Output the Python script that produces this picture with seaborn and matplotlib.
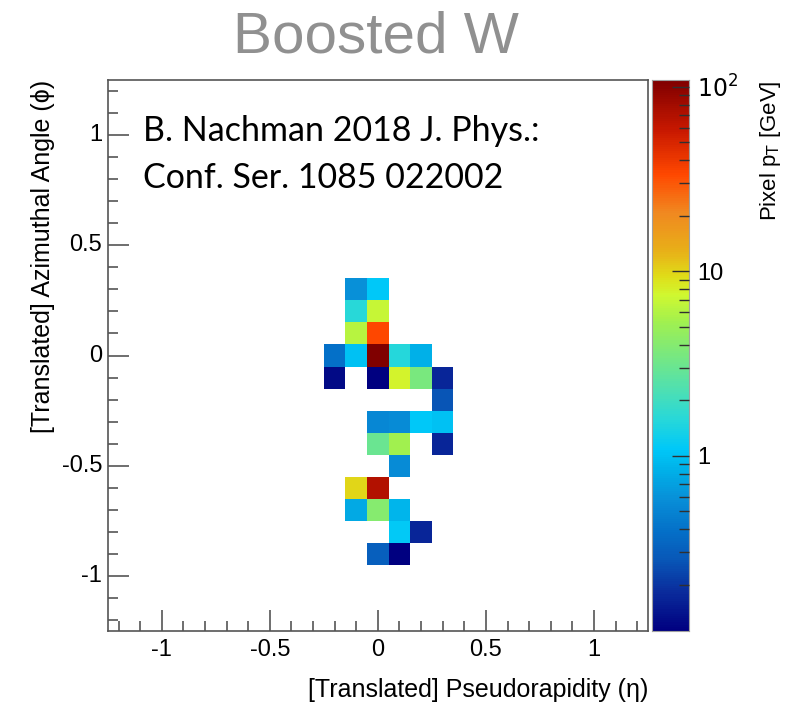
import numpy as np
import pandas as pd
import seaborn as sns
import matplotlib.pyplot as plt
from matplotlib.colors import LogNorm, LinearSegmentedColormap

# pixel grid: 25 x 25 cells of 0.1 from -1.25 to 1.25
bin_centers = np.round(np.arange(-1.2, 1.21, 0.1), 2)

# hit pixels: (eta, phi, pT in GeV)
hit_eta = [-0.1, 0.0,
           -0.1, 0.0,
           -0.1, 0.0,
           -0.2, -0.1, 0.0, 0.1, 0.2,
           -0.2, 0.0, 0.1, 0.2, 0.3,
           0.3,
           0.0, 0.1, 0.2, 0.3,
           0.0, 0.1, 0.3,
           0.1,
           -0.1, 0.0,
           -0.1, 0.0, 0.1,
           0.1, 0.2,
           0.0, 0.1]
hit_phi = [0.3, 0.3,
           0.2, 0.2,
           0.1, 0.1,
           0.0, 0.0, 0.0, 0.0, 0.0,
           -0.1, -0.1, -0.1, -0.1, -0.1,
           -0.2,
           -0.3, -0.3, -0.3, -0.3,
           -0.4, -0.4, -0.4,
           -0.5,
           -0.6, -0.6,
           -0.7, -0.7, -0.7,
           -0.8, -0.8,
           -0.9, -0.9]
hit_pt = [0.58, 1.08,
          1.58, 6.9,
          6.3, 34.0,
          0.39, 1.0, 109.0, 1.55, 0.82,
          0.125, 0.112, 7.7, 3.5, 0.17,
          0.27,
          0.52, 0.56, 1.1, 1.0,
          3.0, 5.3, 0.17,
          0.56,
          9.8, 70.0,
          0.77, 4.0, 0.88,
          1.12, 0.17,
          0.31, 0.113]

x_major = [-1, -0.5, 0, 0.5, 1]
y_major = [1, 0.5, 0, -0.5, -1]
x_labels = ["-1", "-0.5", "0", "0.5", "1"]
y_labels = ["1", "0.5", "0", "-0.5", "-1"]

# ROOT-like rainbow palette
pal_pos = [0.0, 0.07, 0.13, 0.18, 0.24, 0.29, 0.33, 0.385, 0.44, 0.50,
           0.56, 0.61, 0.645, 0.69, 0.76, 0.83, 0.91, 1.0]
pal_col = ["#000080", "#0a2c9c", "#0858b8", "#0470c8", "#0890d8", "#00b0e8",
           "#00c8f8", "#28d8d8", "#50e0b0", "#78e880", "#a0f050", "#d0f830",
           "#e0dc18", "#e8b018", "#f08820", "#ff4800", "#c81800", "#800000"]
cmap = LinearSegmentedColormap.from_list("root_rainbow", list(zip(pal_pos, pal_col)))

sns.set_style("ticks")
plt.rcParams["font.family"] = ["Liberation Sans", "DejaVu Sans"]
plt.rcParams["text.color"] = "black"
plt.rcParams["axes.labelcolor"] = "black"
plt.rcParams["xtick.labelcolor"] = "black"
plt.rcParams["ytick.labelcolor"] = "black"

phi_rows = bin_centers[::-1]
grid = pd.DataFrame(np.nan, index=phi_rows, columns=bin_centers)
for e, p, v in zip(hit_eta, hit_phi, hit_pt):
    grid.loc[round(p, 2), round(e, 2)] = v


def to_x(v):
    return (np.asarray(v) + 1.25) / 0.1


def to_y(v):
    return (1.25 - np.asarray(v)) / 0.1


fig = plt.figure(figsize=(7.89, 7.07), dpi=100)
ax = fig.add_axes([0.1365, 0.1075, 0.6848, 0.7793])
cax = fig.add_axes([0.8264, 0.1075, 0.0469, 0.7793])

sns.heatmap(grid, ax=ax, cbar_ax=cax, cmap=cmap,
            norm=LogNorm(vmin=0.112, vmax=109), linewidths=0)
ax.set_axisbelow(False)
cax.set_axisbelow(False)

frame = "#555555"
for s in ax.spines.values():
    s.set_visible(True)
    s.set_color(frame)
    s.set_linewidth(1.2)

ax.set_xticks(to_x(x_major))
ax.set_xticklabels(x_labels, rotation=0, fontsize=17)
ax.set_xticks(to_x(bin_centers), minor=True)
ax.set_yticks(to_y(y_major))
ax.set_yticklabels(y_labels, rotation=0, fontsize=17)
ax.set_yticks(to_y(bin_centers), minor=True)
ax.tick_params(which="both", direction="in", color=frame, width=1.2,
               bottom=True, left=True, top=False, right=False)
ax.tick_params(axis="x", which="major", length=15, pad=6)
ax.tick_params(axis="y", which="major", length=15, pad=4)
ax.tick_params(which="minor", length=7)

ax.set_xlabel("[Translated] Pseudorapidity (η)", fontsize=18, loc="right",
              labelpad=12)
ax.set_ylabel("[Translated] Azimuthal Angle (ϕ)", fontsize=18, loc="top",
              labelpad=5)

cax.set_yticks([1, 10, 100])
cax.set_yticklabels(["1", "10", "$10^2$"], fontsize=17)
cax.tick_params(which="both", direction="in", right=True, left=False,
                color="#303030", width=1)
cax.tick_params(which="major", length=12, pad=6)
cax.tick_params(which="minor", length=7)
for s in cax.spines.values():
    s.set_visible(True)
    s.set_color("#a0a0a0")
cax.set_ylabel("Pixel p$_\\mathrm{T}$ [GeV]", fontsize=16, loc="top",
               labelpad=14)
cax.yaxis.set_label_position("right")

fig.text(0.476, 0.947, "Boosted W", fontsize=42, color="#909090",
         ha="center", va="center")
ax.text(0.065, 0.937, "B. Nachman 2018 J. Phys.:\nConf. Ser. 1085 022002",
        transform=ax.transAxes, fontsize=24.5, family="Lato", color="black",
        ha="left", va="top", linespacing=1.6)

fig.savefig("out.png", dpi=100)
